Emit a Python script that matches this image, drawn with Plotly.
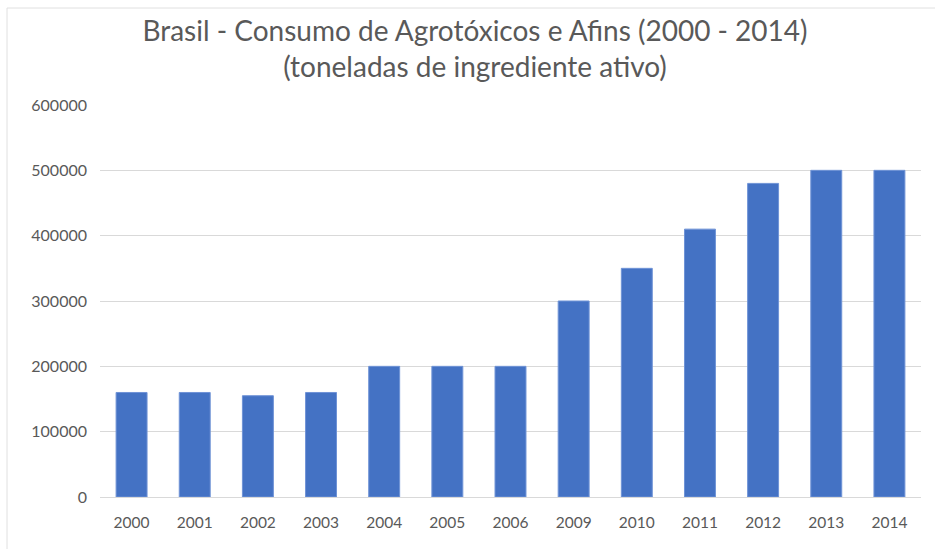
import plotly.graph_objects as go

years = ["2000", "2001", "2002", "2003", "2004", "2005", "2006", "2009", "2010", "2011", "2012", "2013", "2014"]
values = [160000, 160000, 155000, 160000, 200000, 200000, 200000, 300000, 350000, 410000, 480000, 500000, 500000]
y_ticks = [0, 100000, 200000, 300000, 400000, 500000, 600000]

W, H = 935, 549
L, R, T, B = 100, 14, 105, 52
pw = W - L - R
ph = H - T - B

fig = go.Figure(go.Bar(
    x=years, y=values,
    marker=dict(color="#4472c4", line=dict(color="#6f93d6", width=1)),
    width=0.49,
))

fig.update_layout(
    width=W, height=H,
    margin=dict(l=L, r=R, t=T, b=B),
    paper_bgcolor="white", plot_bgcolor="white",
    font=dict(family="Lato, Open Sans, sans-serif", color="#595959"),
    title=dict(
        text="Brasil - Consumo de Agrotóxicos e Afins (2000 - 2014)<br>(toneladas de ingrediente ativo)",
        x=475 / W, xref="container", xanchor="center",
        y=1 - 41 / H, yref="container", yanchor="middle",
        font=dict(size=28, color="#595959"),
    ),
    showlegend=False,
    xaxis=dict(
        type="category", showgrid=False, showline=True, linecolor="#d9d9d9", linewidth=1,
        ticks="", tickfont=dict(size=15.5, color="#595959"), ticklabelstandoff=11,
    ),
    yaxis=dict(
        range=[0, 600000], tickvals=y_ticks, tickformat="d",
        showgrid=True, gridcolor="#d9d9d9", gridwidth=1, zeroline=False,
        showline=False, ticks="", tickfont=dict(size=16, color="#595959"),
        ticklabelstandoff=12,
    ),
    shapes=[
        dict(type="line", xref="paper", yref="paper",
             x0=(7 - L) / pw, x1=(W - L) / pw, y0=(H - B - 8) / ph, y1=(H - B - 8) / ph,
             line=dict(color="#e0e0e0", width=1)),
        dict(type="line", xref="paper", yref="paper",
             x0=(7 - L) / pw, x1=(7 - L) / pw, y0=(H - B - 8) / ph, y1=-B / ph,
             line=dict(color="#e0e0e0", width=1)),
    ],
)

fig.write_html("out.html")
